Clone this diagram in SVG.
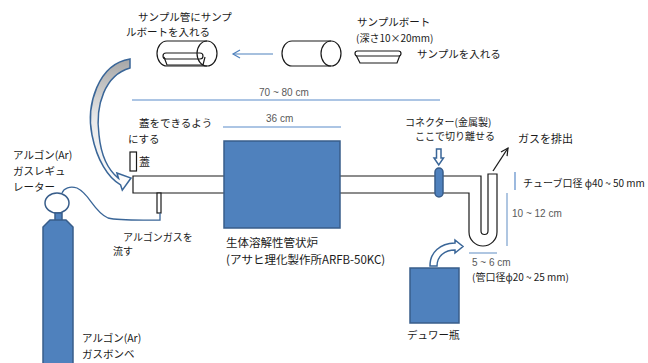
<svg xmlns="http://www.w3.org/2000/svg" width="648" height="363" viewBox="0 0 648 363">
  <style>
    text { font-family: "Noto Sans CJK JP", "Noto Sans", sans-serif; font-size: 11px; fill: #1a1a1a; }
    .dim { font-family: "Liberation Sans", "Noto Sans CJK JP", sans-serif; font-size: 10px; fill: #595959; }
    .sm { font-size: 10px; }
    .mid { font-size: 10.5px; }
    .big { font-size: 11.5px; }
    .outline { fill: #fff; stroke: #1a1a1a; stroke-width: 1.2; }
    .line { fill: none; stroke: #1a1a1a; stroke-width: 1.2; }
    .solid { fill: #4f81bd; stroke: #385d8a; stroke-width: 1.5; }
    .blk { fill: #fff; stroke: #3a6698; stroke-width: 1.5; stroke-linejoin: miter; }
    .dimline { stroke: #5b8bc9; stroke-width: 1.2; fill: none; }
    .dimlight { stroke: #95b3d7; stroke-width: 1.5; fill: none; }
  </style>
  <defs>
    <linearGradient id="grayFade" x1="0" y1="0" x2="0" y2="1">
      <stop offset="0" stop-color="#a6a6a6"/>
      <stop offset="0.45" stop-color="#e8e8e8"/>
      <stop offset="1" stop-color="#ffffff"/>
    </linearGradient>
    <marker id="openHead" viewBox="0 0 10 10" refX="9" refY="5" markerWidth="7" markerHeight="7" orient="auto">
      <path d="M1,1 L9,5 L1,9" fill="none" stroke="#1a1a1a" stroke-width="1.3"/>
    </marker>
  </defs>

  <!-- sample tube with boat inside -->
  <g id="n-sample-tube-loaded">
    <path class="outline" d="M167,41 L207,41 A10,12.5 0 0 1 207,66 L167,66 A10,12.5 0 0 1 167,41 Z"/>
    <rect class="outline" x="163" y="53" width="40" height="6" rx="3"/>
    <path class="line" d="M164,57 L167,65 L203,65 L205,57" stroke-width="1.6"/>
    <path class="line" d="M207,41 A10,12.5 0 0 0 207,66"/>
    <text x="138" y="21" class="mid">サンプル管にサンプ</text>
    <text x="126" y="36" class="mid">ルボートを入れる</text>
  </g>

  <!-- empty sample tube -->
  <g id="n-sample-tube">
    <path class="outline" d="M292,41 L331,41 A10,12.5 0 0 1 331,66 L292,66 A10,12.5 0 0 1 292,41 Z"/>
    <path class="line" d="M331,41 A10,12.5 0 0 0 331,66"/>
  </g>

  <!-- sample boat -->
  <g id="n-sample-boat">
    <path class="outline" d="M356,55 L360,63 L397,63 L400,55"/>
    <rect class="outline" x="355" y="51" width="46" height="5" rx="2.5"/>
    <text x="357" y="26" class="mid">サンプルボート</text>
    <text x="356" y="42" class="sm">(深さ10×20mm)</text>
    <text x="417" y="58" class="mid">サンプルを入れる</text>
  </g>

  <!-- main quartz tube with U-trap outlet -->
  <g id="n-tube">
    <path class="outline" d="M133,176 L481,176 L481,231 A3.5,3.5 0 0 0 488,231 L488,174 L497,174 L497,232 A14,14 0 0 1 469,232 L469,193 L133,193 Z"/>
    <rect class="outline" x="157" y="193" width="4" height="20"/>
  </g>

  <!-- lid -->
  <g id="n-lid">
    <rect class="outline" x="130" y="152" width="6.5" height="19"/>
    <text x="139" y="166">蓋</text>
    <text x="139" y="127" class="mid">蓋をできるよう</text>
    <text x="128" y="142.5" class="mid">にする</text>
  </g>

  <!-- tube furnace -->
  <g id="n-furnace">
    <rect class="solid" x="224" y="141" width="116" height="87"/>
    <text x="226" y="247" class="big">生体溶解性管状炉</text>
    <text x="226" y="264" class="big">(アサヒ理化製作所ARFB-50KC)</text>
  </g>

  <!-- metal connector -->
  <g id="n-connector">
    <rect class="solid" x="435" y="168" width="8" height="29" rx="4"/>
    <text x="405" y="125.5" class="sm">コネクター(金属製)</text>
    <text x="415" y="140" class="sm">ここで切り離せる</text>
  </g>

  <!-- argon gas regulator -->
  <g id="n-regulator">
    <ellipse cx="57" cy="203" rx="12" ry="10" fill="#fff" stroke="#385d8a" stroke-width="1.5"/>
    <text x="13" y="158.5" class="mid">アルゴン(Ar)</text>
    <text x="13" y="174.5" class="mid">ガスレギュ</text>
    <text x="13" y="190.5" class="mid">レーター</text>
  </g>

  <!-- argon gas cylinder -->
  <g id="n-cylinder">
    <rect class="solid" x="55" y="213" width="7" height="8"/>
    <path class="solid" d="M43,364 L43,227 L50,220 L66,220 L73,227 L73,364 Z"/>
    <text x="82" y="342" class="mid">アルゴン(Ar)</text>
    <text x="82" y="358" class="mid">ガスボンベ</text>
  </g>

  <!-- Dewar flask -->
  <g id="n-dewar">
    <rect class="solid" x="410" y="268" width="49" height="55"/>
    <text x="407" y="339" class="mid">デュワー瓶</text>
  </g>

  <!-- connectors, arrows and dimension lines -->
  <g id="connectors">
    <!-- sample loading arrow -->
    <line x1="273" y1="54" x2="233" y2="54" stroke="#4f81bd" stroke-width="1.2"/>
    <path d="M240,50 L233,54 L240,58" fill="none" stroke="#4f81bd" stroke-width="1.2"/>

    <!-- curved block arrow: loaded tube goes into the furnace tube -->
    <path fill="url(#grayFade)" stroke="#3a6698" stroke-width="1.5" stroke-linejoin="miter"
          d="M130,59 C98,64 86,105 92,135 C97,160 108,178 120.6,184.9 L122.3,190.2 L131,178 L116.9,173 L118.5,178.3 C108,170 101,155 99,135 C95,105 105,75 130,68 Z"/>

    <!-- argon gas line from regulator to inlet -->
    <path d="M62,193 C64,188 70,186 77,188 C90,194 93,211 108,218 C120,221 150,220 160,220 L160,213" fill="none" stroke="#3a6698" stroke-width="1.3"/>
    <text x="123" y="240.5" class="sm">アルゴンガスを</text>
    <text x="113" y="255" class="sm">流す</text>

    <!-- cut point arrow -->
    <path class="blk" d="M436.5,149 L441,149 L441,158 L443.5,158 L438.75,165 L434,158 L436.5,158 Z" stroke="#4f81bd" stroke-width="1.2"/>

    <!-- exhaust arrow -->
    <line x1="493" y1="171" x2="508" y2="148" stroke="#1a1a1a" stroke-width="1.3" marker-end="url(#openHead)"/>
    <text x="518" y="143">ガスを排出</text>

    <!-- Dewar to U-trap curved arrow -->
    <path class="blk" d="M430,266 C430,252 440,243.5 455,243 L455,240 L463,246.5 L455,253 L455,250 C445,250 437,256 437,266 Z"/>

    <!-- dimensions -->
    <line class="dimline" x1="132" y1="100" x2="440" y2="100"/>
    <text class="dim" x="259" y="96">70 ~ 80 cm</text>
    <line class="dimline" x1="223" y1="127" x2="341" y2="127"/>
    <text class="dim" x="266" y="122">36 cm</text>
    <line class="dimline" x1="515" y1="172" x2="515" y2="190"/>
    <text x="523" y="187" class="sm">チューブ口径 ϕ40 ~ 50 mm</text>
    <line class="dimlight" x1="507" y1="193" x2="507" y2="246"/>
    <text class="dim" x="512" y="217">10 ~ 12 cm</text>
    <line class="dimlight" x1="469" y1="253" x2="497" y2="253"/>
    <text class="dim" x="472" y="266">5 ~ 6 cm</text>
    <text x="472" y="281" class="sm">(管口径ϕ20 ~ 25 mm)</text>
  </g>
</svg>
